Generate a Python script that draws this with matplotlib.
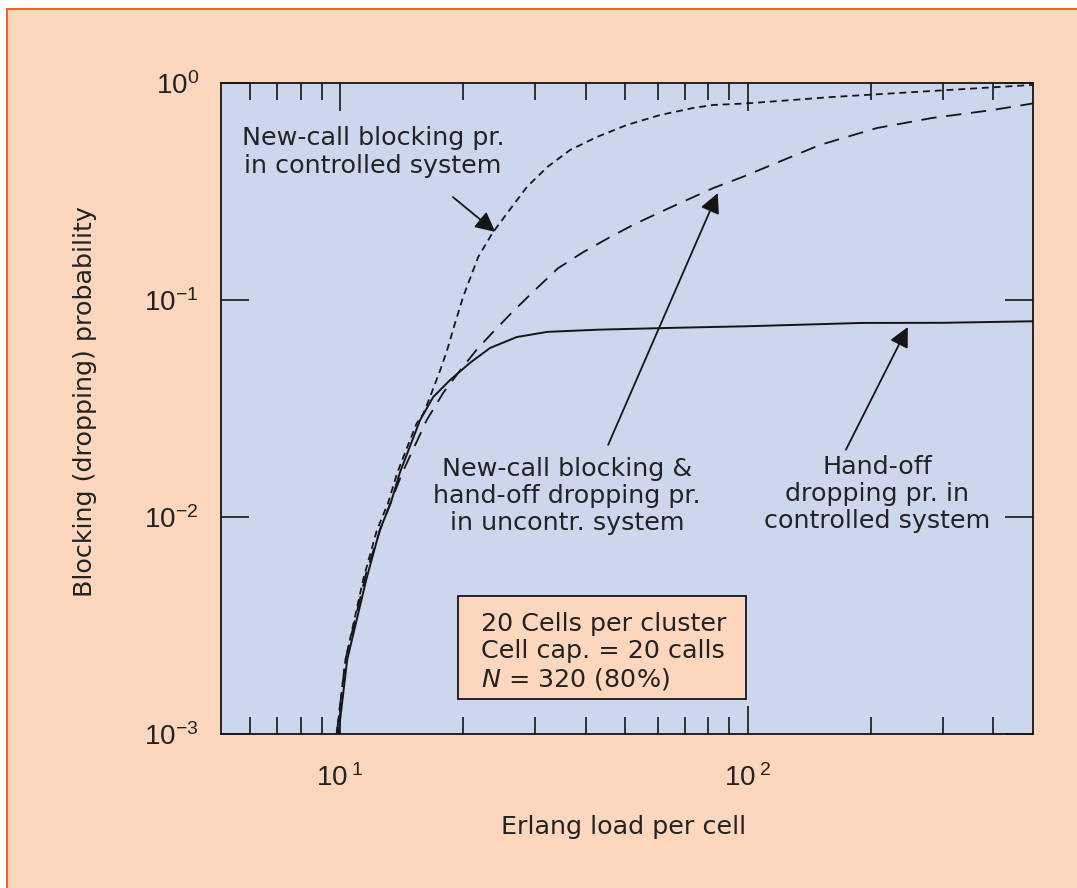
import matplotlib
matplotlib.use('Agg')
import matplotlib.pyplot as plt
from matplotlib.patches import Rectangle
from matplotlib.ticker import FixedLocator, NullLocator, NullFormatter

# curves: Erlang load per cell -> probability
ctrl_new_x = [9.8, 10.3, 11.4, 12.3, 13.1, 13.8, 14.6, 15.4, 16.0, 16.6, 17.6, 18.3, 18.9,
              20.0, 21.8, 23.6, 25.7, 28.7, 32.2, 36.6, 42.6, 50.5, 60.9, 73.3, 82.2, 99.0,
              161, 283, 500]
ctrl_new_y = [1e-3, 2.2e-3, 5.2e-3, 8.7e-3, 1.16e-2, 1.6e-2, 2.1e-2, 2.7e-2, 3.0e-2, 3.57e-2,
              4.77e-2, 5.9e-2, 7.27e-2, 0.103, 0.158, 0.203, 0.252, 0.332, 0.41, 0.491, 0.564,
              0.641, 0.712, 0.767, 0.792, 0.805, 0.862, 0.919, 0.98]

unctrl_x = [9.8, 10.3, 11.6, 12.6, 14.2, 16.3, 17.9, 19.7, 21.6, 23.6, 26.4, 30.0, 34.2,
            39.4, 45.9, 52.3, 60.9, 70.8, 82.2, 97.0, 111, 150, 207, 283, 398, 500]
unctrl_y = [1e-3, 2.2e-3, 5.6e-3, 9.0e-3, 1.6e-2, 2.8e-2, 3.74e-2, 4.75e-2, 5.9e-2, 7.06e-2,
            8.78e-2, 0.111, 0.140, 0.166, 0.195, 0.222, 0.254, 0.289, 0.328, 0.369, 0.41,
            0.518, 0.62, 0.69, 0.751, 0.805]

ctrl_ho_x = [9.9, 10.4, 11.6, 12.5, 13.3, 14.0, 14.8, 15.7, 16.9, 18.6, 20.8, 23.3, 27.1,
             32.2, 43, 67, 100, 190, 300, 500]
ctrl_ho_y = [1e-3, 2.2e-3, 5.2e-3, 8.7e-3, 1.16e-2, 1.6e-2, 2.1e-2, 2.8e-2, 3.57e-2, 4.28e-2,
             5.13e-2, 6.01e-2, 6.75e-2, 7.13e-2, 7.3e-2, 7.45e-2, 7.57e-2, 7.84e-2, 7.85e-2,
             7.98e-2]

x_major = [10, 100]
x_major_labels = [r'$\mathdefault{10\,{}^{1}}$', r'$\mathdefault{10\,{}^{2}}$']
x_minor = [6, 7, 8, 9, 20, 30, 40, 50, 60, 70, 80, 90, 200, 300, 400]
y_major = [1e-3, 1e-2, 1e-1, 1]
y_major_labels = [r'$\mathdefault{10^{-3}}$', r'$\mathdefault{10^{-2}}$',
                  r'$\mathdefault{10^{-1}}$', r'$\mathdefault{10^{0}}$']

peach = '#FDD6BE'
blue = '#CCD7EE'
ink = '#151515'

plt.rcParams['font.family'] = ['DejaVu Sans']
plt.rcParams['lines.scale_dashes'] = False

fig = plt.figure(figsize=(10.77, 8.88), dpi=100, facecolor='white')
# peach panel with the orange frame on top/left
fig.patches.append(Rectangle((7 / 1077, -0.05), 1.1, 1 - 9 / 888 + 0.05,
                             transform=fig.transFigure, facecolor=peach,
                             edgecolor='#FF5A1F', lw=1.4, zorder=-1))

ax = fig.add_axes([221 / 1077, 154 / 888, 812 / 1077, 651 / 888])
ax.set_facecolor(blue)
ax.set_xscale('log')
ax.set_yscale('log')

ax.plot(ctrl_new_x, ctrl_new_y, color=ink, lw=1.3, dashes=(5, 3.5))
ax.plot(unctrl_x, unctrl_y, color=ink, lw=1.3, dashes=(11, 7))
ax.plot(ctrl_ho_x, ctrl_ho_y, color=ink, lw=1.4)

ax.set_xlim(5.1, 500)
ax.set_ylim(1e-3, 1)

ax.xaxis.set_major_locator(FixedLocator(x_major))
ax.xaxis.set_minor_locator(FixedLocator(x_minor))
ax.xaxis.set_minor_formatter(NullFormatter())
ax.yaxis.set_minor_locator(NullLocator())
ax.set_xticks(x_major, x_major_labels, fontfamily='Liberation Sans')
ax.set_yticks(y_major, y_major_labels, fontfamily='Liberation Sans')

ax.tick_params(which='both', direction='in', top=True, right=True, width=1.2, colors=ink)
ax.tick_params(which='major', length=20)
ax.tick_params(which='minor', length=12)
ax.tick_params(axis='x', which='major', pad=22, labelsize=20, labelcolor='#222')
ax.tick_params(axis='y', which='major', pad=16, labelsize=20, labelcolor='#222')
for s in ax.spines.values():
    s.set_linewidth(1.3)
    s.set_color(ink)

ax.set_xlabel('Erlang load per cell', fontsize=18.3, color='#222')
ax.set_ylabel('Blocking (dropping) probability', fontsize=18.3, color='#222')
ax.xaxis.set_label_coords(0.496, -0.124)
ax.yaxis.set_label_coords(-0.153, 0.511)

txt = dict(fontsize=18.3, color='#222', ha='center', va='center', linespacing=1.16,
           transform=ax.transAxes)
ax.text(0.187, 0.894, 'New-call blocking pr.\nin controlled system', **txt)
ax.text(0.426, 0.366, 'New-call blocking &\nhand-off dropping pr.\nin uncontr. system', **txt)
ax.text(0.808, 0.368, 'Hand-off\ndropping pr. in\ncontrolled system', **txt)

# parameter box
ax.add_patch(Rectangle((0.292, 0.0538), 0.3546, 0.1582, transform=ax.transAxes,
                       facecolor=peach, edgecolor=ink, lw=1.3, zorder=3))
ax.text(0.320, 0.126, '20 Cells per cluster\nCell cap. = 20 calls\n$N$ = 320 (80%)',
        fontsize=18.3, color='#222', ha='left', va='center', linespacing=1.16,
        transform=ax.transAxes, zorder=4)

arrow = dict(arrowstyle='-|>,head_length=0.6,head_width=0.3', color=ink, lw=1.3,
             shrinkA=0, shrinkB=0, mutation_scale=20)
ax.annotate('', xy=(24.0, 0.206), xytext=(18.9, 0.298), arrowprops=arrow)
ax.annotate('', xy=(84.3, 0.311), xytext=(45.4, 0.0215), arrowprops=arrow)
ax.annotate('', xy=(246.6, 0.0751), xytext=(173.8, 0.0204), arrowprops=arrow)

fig.savefig('out.png', dpi=100, facecolor=fig.get_facecolor())
